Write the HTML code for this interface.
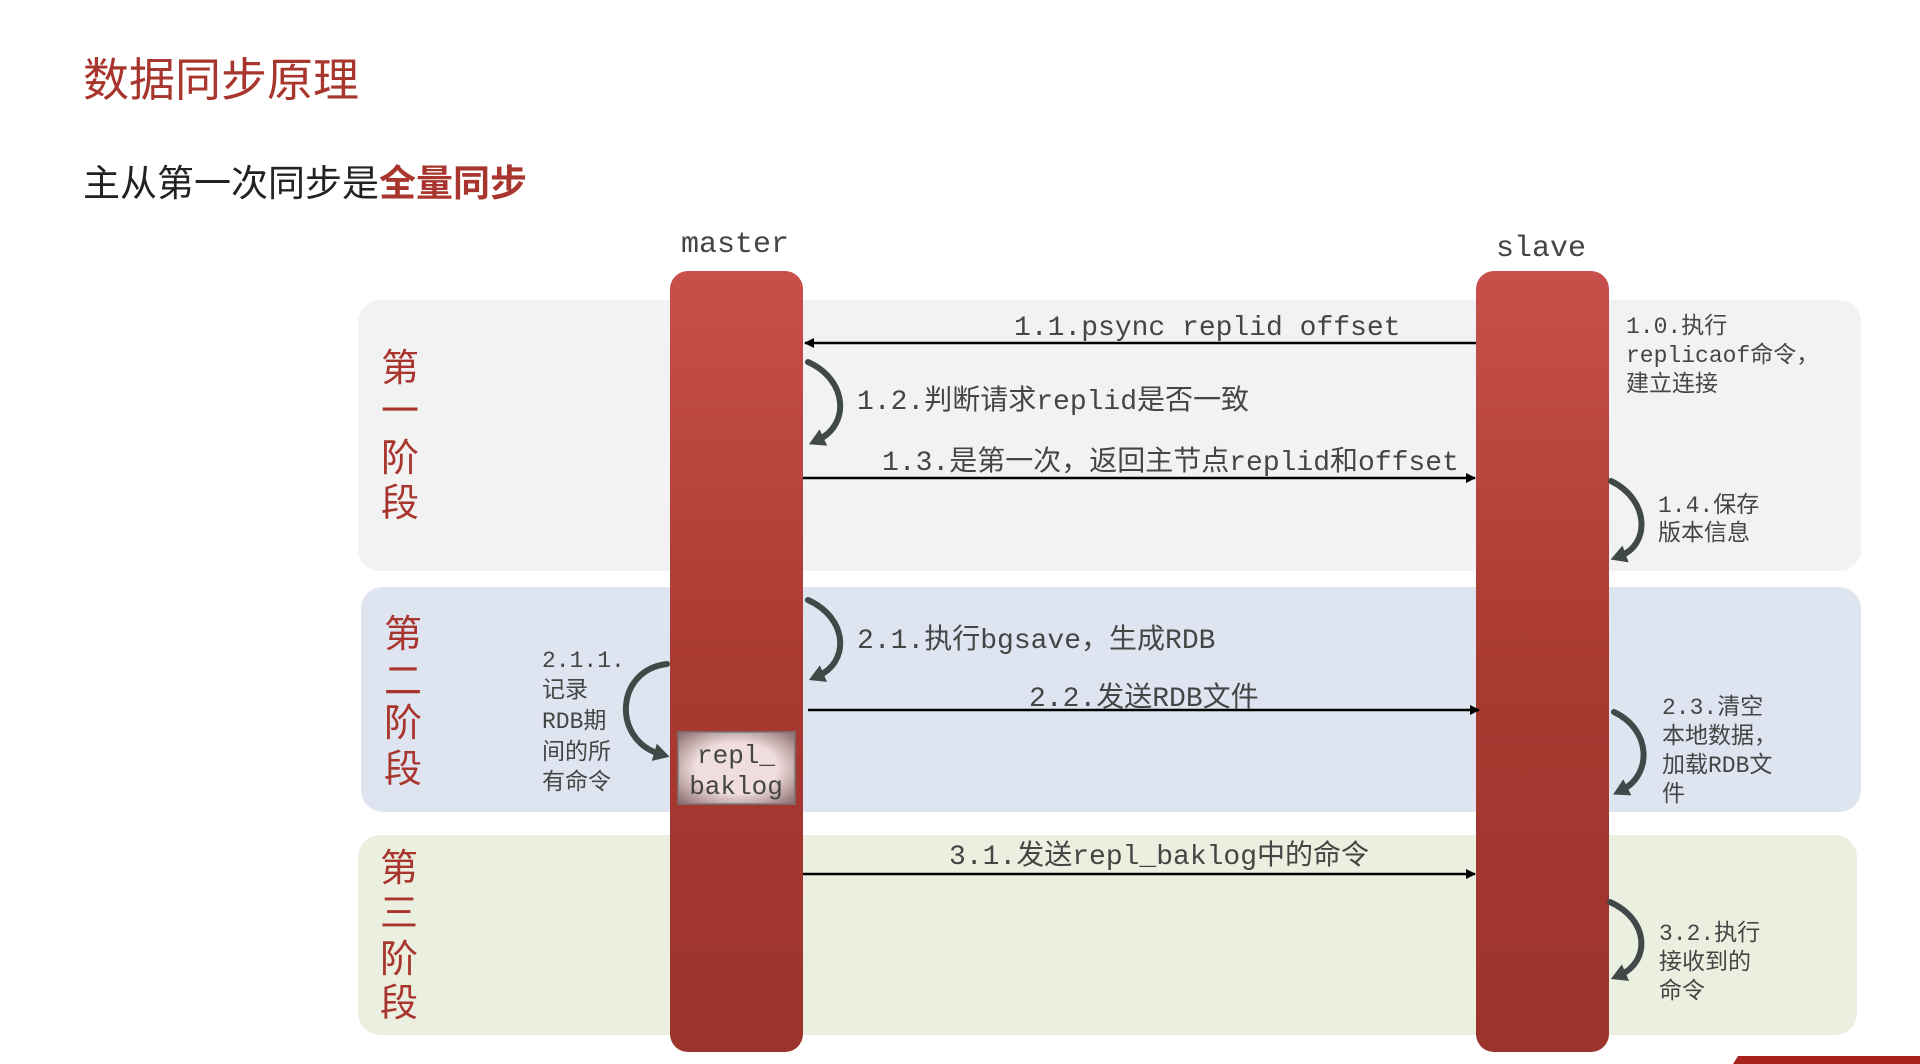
<!DOCTYPE html>
<html><head><meta charset="utf-8"><style>
html,body{margin:0;padding:0;background:#fff;}
svg{display:block}
.m{font-family:"Liberation Mono","Noto Sans CJK SC",monospace;fill:#454545}
.t{font-family:"Liberation Sans","Noto Sans CJK SC",sans-serif}
</style></head><body>
<svg width="1920" height="1064" viewBox="0 0 1920 1064" xmlns="http://www.w3.org/2000/svg">
<defs>
<linearGradient id="bar" x1="0" y1="0" x2="0" y2="1">
<stop offset="0" stop-color="#c9504a"/><stop offset="0.5" stop-color="#a93a32"/><stop offset="1" stop-color="#9c342c"/>
</linearGradient>
<radialGradient id="pink" cx="0.5" cy="0.5" r="0.7">
<stop offset="0.5" stop-color="#f0dede"/><stop offset="1" stop-color="#8a6a6a"/>
</radialGradient>
<marker id="ah" markerWidth="10" markerHeight="10" refX="9" refY="5" orient="auto" markerUnits="userSpaceOnUse">
<path d="M0,0 L10,5 L0,10 z" fill="#000"/></marker>
<marker id="ch" markerWidth="18" markerHeight="18" refX="6" refY="9" orient="auto" markerUnits="userSpaceOnUse">
<path d="M0,0 L16,9 L0,18 z" fill="#404848"/></marker>
</defs>

<text class="t" x="83" y="96" font-size="46" fill="#a8362e">数据同步原理</text>
<text class="t" x="83" y="196" font-size="37" fill="#222">主从第一次同步是<tspan fill="#a8362e" font-weight="bold">全量同步</tspan></text>

<rect x="358" y="300" width="1503" height="271" rx="22" fill="#f2f2f2"/>
<rect x="361" y="587" width="1500" height="225" rx="22" fill="#dfe5f0"/>
<rect x="358" y="835" width="1499" height="200" rx="22" fill="#ebefe0"/>

<g class="t" font-size="38" fill="#a8362e" text-anchor="middle">
<text x="400" y="381">第</text><text x="400" y="424">一</text><text x="400" y="471">阶</text><text x="400" y="516">段</text>
<text x="403" y="647">第</text><text x="403" y="694">二</text><text x="403" y="736">阶</text><text x="403" y="782">段</text>
<text x="399" y="881">第</text><text x="399" y="926">三</text><text x="399" y="972">阶</text><text x="399" y="1016">段</text>
</g>

<text class="m" x="735" y="252" font-size="30" text-anchor="middle" fill="#333">master</text>
<text class="m" x="1541" y="256" font-size="30" text-anchor="middle" fill="#333">slave</text>

<rect x="670" y="271" width="133" height="781" rx="18" fill="url(#bar)"/>
<rect x="1476" y="271" width="133" height="781" rx="18" fill="url(#bar)"/>

<rect x="678" y="732" width="117" height="72" fill="url(#pink)" stroke="#777" stroke-width="1.5"/>
<text class="m" x="736" y="763" font-size="26" text-anchor="middle" fill="#333">repl_</text>
<text class="m" x="736" y="794" font-size="26" text-anchor="middle" fill="#333">baklog</text>

<g stroke="#000" stroke-width="2.5" fill="none">
<line x1="1476" y1="343" x2="805" y2="343" marker-end="url(#ah)"/>
<line x1="803" y1="478" x2="1475" y2="478" marker-end="url(#ah)"/>
<line x1="808" y1="710" x2="1479" y2="710" marker-end="url(#ah)"/>
<line x1="803" y1="874" x2="1475" y2="874" marker-end="url(#ah)"/>
</g>

<g class="m" font-size="28">
<text x="1014" y="335">1.1.psync replid offset</text>
<text x="857" y="409">1.2.判断请求replid是否一致</text>
<text x="882" y="470">1.3.是第一次，返回主节点replid和offset</text>
<text x="857" y="648">2.1.执行bgsave，生成RDB</text>
<text x="1029" y="706">2.2.发送RDB文件</text>
<text x="949" y="864">3.1.发送repl_baklog中的命令</text>
</g>
<g class="m" font-size="23">
<text x="1626" y="333">1.0.执行</text>
<text x="1626" y="362">replicaof命令，</text>
<text x="1626" y="391">建立连接</text>
<text x="1658" y="512">1.4.保存</text>
<text x="1658" y="540">版本信息</text>
<text x="1662" y="714">2.3.清空</text>
<text x="1662" y="743">本地数据，</text>
<text x="1662" y="772">加载RDB文</text>
<text x="1662" y="801">件</text>
<text x="1659" y="940">3.2.执行</text>
<text x="1659" y="969">接收到的</text>
<text x="1659" y="998">命令</text>
<text x="542" y="667">2.1.1.</text>
<text x="542" y="697">记录</text>
<text x="542" y="728">RDB期</text>
<text x="542" y="759">间的所</text>
<text x="542" y="789">有命令</text>
</g>

<g stroke="#404848" stroke-width="6" fill="none" stroke-linecap="round">
<path d="M808,362 C848,380 850,425 818,440" marker-end="url(#ch)"/>
<path d="M1611,481 C1650,500 1650,545 1620,556" marker-end="url(#ch)"/>
<path d="M808,600 C848,618 850,662 818,676" marker-end="url(#ch)"/>
<path d="M1614,712 C1652,730 1652,775 1622,790" marker-end="url(#ch)"/>
<path d="M1610,902 C1650,920 1650,962 1620,975" marker-end="url(#ch)"/>
<path d="M667,664 C615,670 612,740 660,754" marker-end="url(#ch)"/>
</g>

<polygon points="1738,1056 1920,1056 1920,1064 1733,1064" fill="#a8231c"/>
</svg>
</body></html>
